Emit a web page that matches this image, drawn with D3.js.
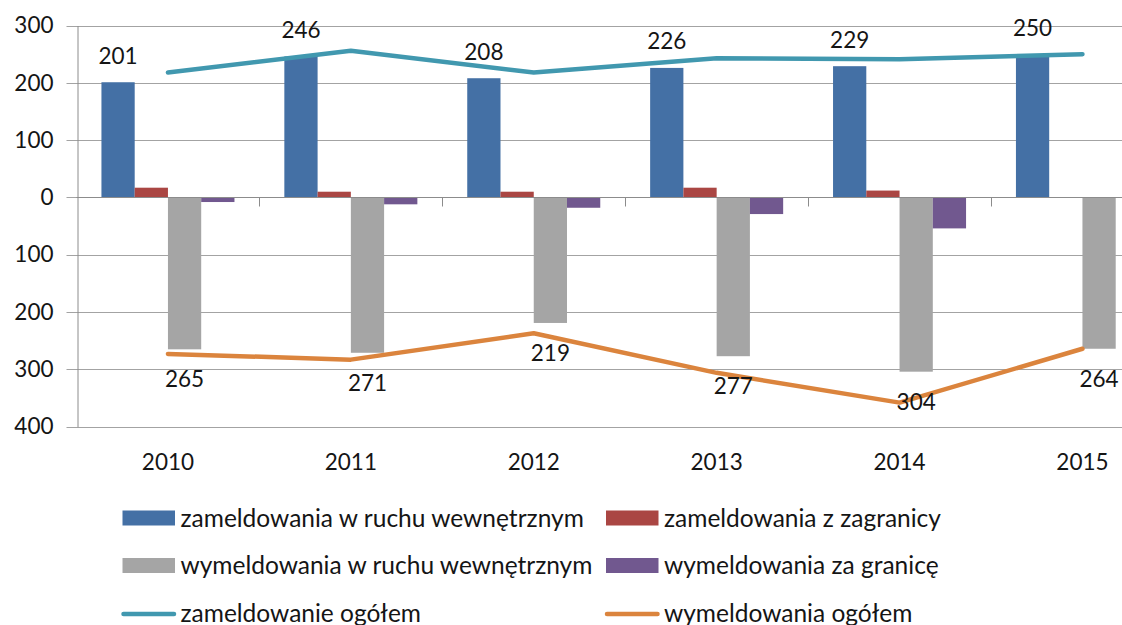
<!DOCTYPE html>
<html>
<head>
<meta charset="utf-8">
<script src="https://cdn.jsdelivr.net/npm/d3@7"></script>
<style>
  body { margin: 0; background: #fff; }
  text { font-family: Lato, "Open Sans", sans-serif; fill: #151515; }
</style>
</head>
<body>
<div class="chart"></div>
<script>
// data
const years = ['2010', '2011', '2012', '2013', '2014', '2015']
const zamWewn = [201, 246, 208, 226, 229, 250]     // zameldowania w ruchu wewnętrznym
const zamZagr = [17, 10, 10, 17, 12, 0]            // zameldowania z zagranicy
const wymWewn = [265, 271, 219, 277, 304, 264]     // wymeldowania w ruchu wewnętrznym
const wymZagr = [8, 12, 18, 29, 54, 0]             // wymeldowania za granicę
const zamOgolem = [218, 256, 218, 243, 241, 250]   // zameldowanie ogółem
const wymOgolem = [273, 283, 237, 306, 358, 264]   // wymeldowania ogółem
const yTicks = [-400, -300, -200, -100, 0, 100, 200, 300]

const barNames = ['zameldowania w ruchu wewnętrznym', 'zameldowania z zagranicy',
                  'wymeldowania w ruchu wewnętrznym', 'wymeldowania za granicę']
const lineNames = ['zameldowanie ogółem', 'wymeldowania ogółem']
const barColors = ['#4470a5', '#aa4643', '#a5a5a5', '#71588f']
const lineColors = ['#4198af', '#db843d']

const W = 1122, H = 625
const left = 76.5, catW = 182.9

const svg = d3.select('.chart').append('svg')
    .attr('width', W)
    .attr('height', H)

// bar series, wymeldowania drawn as negative
const series = [zamWewn, zamZagr, wymWewn.map(v => -v), wymZagr.map(v => -v)]

let x0 = d3.scaleBand()
    .domain(years)
    .range([left, left + catW * years.length])

let x1 = d3.scaleBand()
    .domain(d3.range(4))
    .range([0, x0.bandwidth()])
    .paddingOuter(0.75)

let y = d3.scaleLinear()
    .domain([-400, 300])
    .range([426.7, 25.5])

// gridlines
svg.append('g')
    .selectAll('line')
    .data(yTicks)
    .join('line')
    .attr('x1', left - 10)
    .attr('x2', W)
    .attr('y1', d => Math.round(y(d)) + 0.5)
    .attr('y2', d => Math.round(y(d)) + 0.5)
    .attr('stroke', '#a3a3a3')
    .attr('stroke-width', 1)

// y axis
const yAxis = d3.axisLeft(y)
    .tickValues(yTicks)
    .tickFormat(d => Math.abs(d))
    .tickSize(0)
    .tickPadding(24)

svg.append('g')
    .attr('transform', `translate(${Math.round(left) + 0.5},0)`)
    .call(yAxis)
    .call(g => g.select('.domain').attr('stroke', '#8c8c8c'))
    .call(g => g.selectAll('text').attr('font-size', 22.5).attr('fill', '#151515').attr('font-family', 'Lato'))

// bars
years.forEach((yr, i) => {
    series.forEach((s, k) => {
        const v = s[i]
        if (v === 0) return
        svg.append('rect')
            .attr('x', x0(yr) + x1(k))
            .attr('width', x1.bandwidth())
            .attr('y', y(Math.max(0, v)))
            .attr('height', Math.abs(y(v) - y(0)))
            .attr('fill', barColors[k])
    })
})

// x axis on the zero line with ticks between categories
const zeroY = Math.round(y(0)) + 0.5
svg.append('line')
    .attr('x1', left).attr('x2', W)
    .attr('y1', zeroY).attr('y2', zeroY)
    .attr('stroke', '#8c8c8c')

svg.append('g')
    .selectAll('line')
    .data(years.slice(1))
    .join('line')
    .attr('x1', d => Math.round(x0(d)) + 0.5)
    .attr('x2', d => Math.round(x0(d)) + 0.5)
    .attr('y1', zeroY)
    .attr('y2', zeroY + 9)
    .attr('stroke', '#8c8c8c')

// year labels
svg.append('g')
    .selectAll('text')
    .data(years)
    .join('text')
    .attr('x', d => x0(d) + x0.bandwidth() / 2)
    .attr('y', 470)
    .attr('text-anchor', 'middle')
    .attr('font-size', 22.5)
    .text(d => d)

// lines
const lineGen = d3.line()
    .x((d, i) => x0(years[i]) + x0.bandwidth() / 2)
    .y(d => y(d))

const lineData = [zamOgolem, wymOgolem.map(v => -v)]
lineData.forEach((ld, k) => {
    svg.append('path')
        .datum(ld)
        .attr('d', lineGen)
        .attr('fill', 'none')
        .attr('stroke', lineColors[k])
        .attr('stroke-width', 4.5)
        .attr('stroke-linecap', 'round')
        .attr('stroke-linejoin', 'round')
})

// data labels for blue and gray bars
svg.append('g')
    .selectAll('text')
    .data(zamWewn)
    .join('text')
    .attr('x', (d, i) => x0(years[i]) + x1(0) + x1.bandwidth() / 2)
    .attr('y', d => y(d) - 26.5)
    .attr('dy', '0.35em')
    .attr('text-anchor', 'middle')
    .attr('font-size', 22.5)
    .text(d => d)

svg.append('g')
    .selectAll('text')
    .data(wymWewn)
    .join('text')
    .attr('x', (d, i) => x0(years[i]) + x1(2) + x1.bandwidth() / 2)
    .attr('y', d => y(-d) + 30)
    .attr('dy', '0.35em')
    .attr('text-anchor', 'middle')
    .attr('font-size', 22.5)
    .text(d => d)

// legend
const legX = [122.5, 606]
const legY = [518, 565.5, 613]
const legend = svg.append('g')

barNames.forEach((name, k) => {
    const cx = legX[k % 2], cy = legY[Math.floor(k / 2)]
    legend.append('rect')
        .attr('x', cx).attr('y', cy - 7.5)
        .attr('width', 52.5).attr('height', 15)
        .attr('fill', barColors[k])
    legend.append('text')
        .attr('x', cx + 58).attr('y', cy)
        .attr('dy', '0.35em')
        .attr('font-size', 24.5)
        .text(name)
})

lineNames.forEach((name, k) => {
    const cx = legX[k], cy = legY[2]
    legend.append('line')
        .attr('x1', cx + 1).attr('x2', cx + 51.5)
        .attr('y1', cy + 1).attr('y2', cy + 1)
        .attr('stroke', lineColors[k])
        .attr('stroke-width', 4.5)
        .attr('stroke-linecap', 'round')
    legend.append('text')
        .attr('x', cx + 58).attr('y', cy)
        .attr('dy', '0.35em')
        .attr('font-size', 24.5)
        .text(name)
})
</script>
</body>
</html>
